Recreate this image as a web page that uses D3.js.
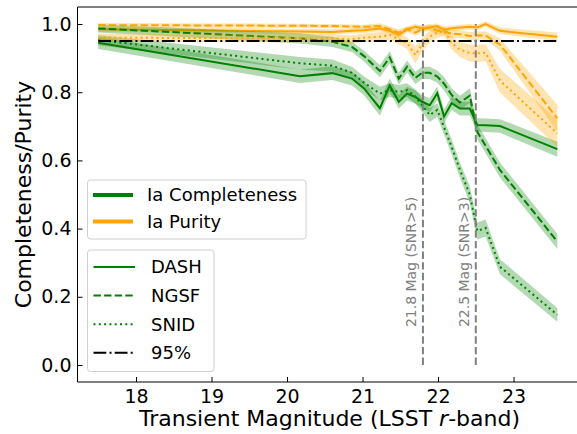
<!DOCTYPE html>
<html>
<head>
<meta charset="utf-8">
<script src="https://cdn.jsdelivr.net/npm/d3@7"></script>
<style>
html,body{margin:0;padding:0;background:#fff;}
svg{display:block;font-family:"DejaVu Sans",sans-serif;}
</style>
</head>
<body>
<svg id="chart" width="577" height="434"></svg>
<script>
const mags = [17.5, 20.17, 20.6, 20.86, 21.02, 21.23, 21.36, 21.48, 21.59, 21.7, 21.79, 21.89, 21.99, 22.08, 22.18, 22.29, 22.42, 22.52, 22.63, 22.82, 23.58];

const dashComp = [0.945, 0.847, 0.856, 0.840, 0.811, 0.753, 0.820, 0.772, 0.796, 0.786, 0.772, 0.762, 0.797, 0.729, 0.768, 0.752, 0.752, 0.704, 0.703, 0.701, 0.633];
const ngsfComp = [0.987, 0.958, 0.948, 0.933, 0.906, 0.862, 0.902, 0.840, 0.875, 0.842, 0.857, 0.857, 0.846, 0.825, 0.792, 0.770, 0.790, 0.684, 0.643, 0.572, 0.362];
const snidComp = [0.953, 0.885, 0.878, 0.857, 0.828, 0.796, 0.806, 0.801, 0.806, 0.787, 0.762, 0.733, 0.748, 0.697, 0.640, 0.572, 0.500, 0.393, 0.402, 0.288, 0.147];

const dashPur = [0.985, 0.978, 0.977, 0.980, 0.982, 0.987, 0.980, 0.968, 0.985, 0.992, 0.988, 0.990, 0.994, 0.983, 0.988, 0.990, 0.992, 0.990, 1.000, 0.980, 0.963];
const ngsfPur = [0.997, 0.995, 0.994, 0.993, 0.992, 0.994, 0.985, 0.975, 0.985, 0.975, 0.985, 0.990, 0.980, 0.978, 0.972, 0.970, 0.965, 0.967, 0.966, 0.940, 0.723];
const snidPur = [0.960, 0.958, 0.958, 0.955, 0.960, 0.963, 0.968, 0.955, 0.945, 0.909, 0.940, 0.963, 0.975, 0.980, 0.945, 0.925, 0.915, 0.914, 0.916, 0.834, 0.679];

const dashCompErr = [0.018, 0.02, 0.02, 0.02, 0.02, 0.022, 0.02, 0.02, 0.02, 0.02, 0.02, 0.02, 0.02, 0.02, 0.02, 0.02, 0.02, 0.02, 0.02, 0.02, 0.022];
const ngsfCompErr = [0.012, 0.015, 0.015, 0.015, 0.016, 0.018, 0.018, 0.018, 0.018, 0.018, 0.018, 0.018, 0.018, 0.02, 0.02, 0.02, 0.022, 0.022, 0.022, 0.022, 0.022];
const snidCompErr = [0.015, 0.018, 0.018, 0.018, 0.018, 0.02, 0.02, 0.02, 0.02, 0.02, 0.02, 0.02, 0.02, 0.022, 0.022, 0.022, 0.025, 0.025, 0.025, 0.022, 0.02];
const dashPurErr = [0.008, 0.008, 0.008, 0.008, 0.008, 0.008, 0.008, 0.01, 0.008, 0.008, 0.008, 0.008, 0.008, 0.008, 0.008, 0.008, 0.008, 0.008, 0.008, 0.01, 0.012];
const ngsfPurErr = [0.006, 0.006, 0.006, 0.006, 0.006, 0.008, 0.008, 0.01, 0.008, 0.01, 0.01, 0.01, 0.01, 0.01, 0.012, 0.012, 0.012, 0.012, 0.012, 0.018, 0.04];
const snidPurErr = [0.012, 0.012, 0.012, 0.012, 0.012, 0.014, 0.014, 0.015, 0.018, 0.025, 0.02, 0.018, 0.015, 0.015, 0.02, 0.022, 0.025, 0.025, 0.025, 0.035, 0.04];

const xTicks = [18, 19, 20, 21, 22, 23];
const yTicks = [0.0, 0.2, 0.4, 0.6, 0.8, 1.0];
const snrLines = [{mag: 21.8, label: "21.8 Mag (SNR>5)"}, {mag: 22.5, label: "22.5 Mag (SNR>3)"}];
const refLevel = 0.95;

const svg = d3.select("#chart");
const x = d3.scaleLinear().domain([17.225, 23.9]).range([77.5, 581.5]);
const y = d3.scaleLinear().domain([-0.05, 1.05]).range([382, 7]);

const GREEN = "#008000", ORANGE = "#FFA500";
const styles = {
  DASH: null,
  NGSF: "7.4,3.2",
  SNID: "2,3.3"
};

const series = [
  {name: "DASH", comp: dashComp, compErr: dashCompErr, pur: dashPur, purErr: dashPurErr},
  {name: "NGSF", comp: ngsfComp, compErr: ngsfCompErr, pur: ngsfPur, purErr: ngsfPurErr},
  {name: "SNID", comp: snidComp, compErr: snidCompErr, pur: snidPur, purErr: snidPurErr}
];

const area = d3.area().x(d => x(d.m)).y0(d => y(d.v - d.e)).y1(d => y(d.v + d.e));
const line = d3.line().x(d => x(d.m)).y(d => y(d.v));

const plot = svg.append("g");
series.forEach(s => {
  const c = mags.map((m, i) => ({m, v: s.comp[i], e: s.compErr[i]}));
  const p = mags.map((m, i) => ({m, v: s.pur[i], e: s.purErr[i]}));
  plot.append("path").attr("d", area(c)).attr("fill", GREEN).attr("fill-opacity", 0.3);
  plot.append("path").attr("d", line(c)).attr("fill", "none").attr("stroke", GREEN)
    .attr("stroke-width", 2).attr("stroke-dasharray", styles[s.name]);
  plot.append("path").attr("d", area(p)).attr("fill", ORANGE).attr("fill-opacity", 0.3);
  plot.append("path").attr("d", line(p)).attr("fill", "none").attr("stroke", ORANGE)
    .attr("stroke-width", 2).attr("stroke-dasharray", styles[s.name]);
});

// 95% line
plot.append("line")
  .attr("x1", x(mags[0])).attr("x2", x(mags[mags.length - 1]))
  .attr("y1", y(refLevel)).attr("y2", y(refLevel))
  .attr("stroke", "#000").attr("stroke-width", 2).attr("stroke-dasharray", "12.8,3.2,2,3.2");

// SNR vertical lines
snrLines.forEach(d => {
  plot.append("line").attr("x1", x(d.mag)).attr("x2", x(d.mag))
    .attr("y1", y(0)).attr("y2", y(1))
    .attr("stroke", "#808080").attr("stroke-width", 2).attr("stroke-dasharray", "7.4,3.2");
  const tx = x(d.mag) - 6.5, ty = y(0.111);
  plot.append("text").attr("transform", `translate(${tx},${ty}) rotate(-90)`)
    .attr("font-size", 14).attr("fill", "#808080").attr("text-anchor", "start")
    .text(d.label);
});

// Axes
const xAxis = d3.axisBottom(x).tickValues(xTicks).tickSize(-5).tickPadding(8).tickFormat(d3.format("d"));
const yAxis = d3.axisLeft(y).tickValues(yTicks).tickSize(-5).tickPadding(6).tickFormat(d3.format(".1f"));

const gx = svg.append("g").attr("transform", "translate(0,382)").call(xAxis);
const gy = svg.append("g").attr("transform", "translate(77.5,0)").call(yAxis);
[gx, gy].forEach(g => {
  g.select(".domain").remove();
  g.selectAll(".tick line").attr("stroke", "#000").attr("stroke-width", 1);
  g.selectAll(".tick text").attr("font-size", 19).attr("fill", "#000")
    .attr("font-family", "DejaVu Sans");
});
gx.selectAll(".tick text").attr("dy", "0.71em");

// spines (right spine lies outside the visible window)
svg.append("line").attr("x1", 77.5).attr("x2", 77.5).attr("y1", 7).attr("y2", 382).attr("stroke", "#000").attr("stroke-width", 1);
svg.append("line").attr("x1", 77.5).attr("x2", 581.5).attr("y1", 382).attr("y2", 382).attr("stroke", "#000").attr("stroke-width", 1);
svg.append("line").attr("x1", 77.5).attr("x2", 581.5).attr("y1", 7).attr("y2", 7).attr("stroke", "#000").attr("stroke-width", 1);

// Axis labels
const xl = svg.append("text").attr("x", 329.5).attr("y", 426).attr("text-anchor", "middle")
  .attr("font-size", 22).attr("fill", "#000");
xl.append("tspan").text("Transient Magnitude (LSST ");
xl.append("tspan").attr("font-style", "italic").text("r");
xl.append("tspan").text("-band)");

svg.append("text").attr("transform", "translate(31,194.5) rotate(-90)").attr("text-anchor", "middle")
  .attr("font-size", 22).attr("fill", "#000").text("Completeness/Purity");

// Legends
function legendBox(x0, y0, w, h) {
  svg.append("rect").attr("x", x0).attr("y", y0).attr("width", w).attr("height", h)
    .attr("rx", 3).attr("fill", "#fff").attr("fill-opacity", 0.8)
    .attr("stroke", "#d0d0d0").attr("stroke-width", 1);
}
const legend1 = [{label: "Ia Completeness", color: GREEN}, {label: "Ia Purity", color: ORANGE}];
legendBox(87.5, 180, 218.5, 59);
legend1.forEach((d, i) => {
  const yy = 195 + i * 26.5;
  svg.append("line").attr("x1", 93).attr("x2", 133).attr("y1", yy).attr("y2", yy)
    .attr("stroke", d.color).attr("stroke-width", 4);
  svg.append("text").attr("x", 147).attr("y", yy).attr("dy", "0.36em")
    .attr("font-size", 18).attr("fill", "#000").text(d.label);
});

const legend2 = [
  {label: "DASH", color: GREEN, dash: styles.DASH},
  {label: "NGSF", color: GREEN, dash: styles.NGSF},
  {label: "SNID", color: GREEN, dash: styles.SNID},
  {label: "95%", color: "#000", dash: "12.8,3.2,2,3.2"}
];
legendBox(87.5, 250, 126.5, 121.5);
legend2.forEach((d, i) => {
  const yy = 267 + i * 28.6;
  svg.append("line").attr("x1", 93.5).attr("x2", 135).attr("y1", yy).attr("y2", yy)
    .attr("stroke", d.color).attr("stroke-width", 2).attr("stroke-dasharray", d.dash);
  svg.append("text").attr("x", 151).attr("y", yy).attr("dy", "0.36em")
    .attr("font-size", 18).attr("fill", "#000").text(d.label);
});
</script>
</body>
</html>
